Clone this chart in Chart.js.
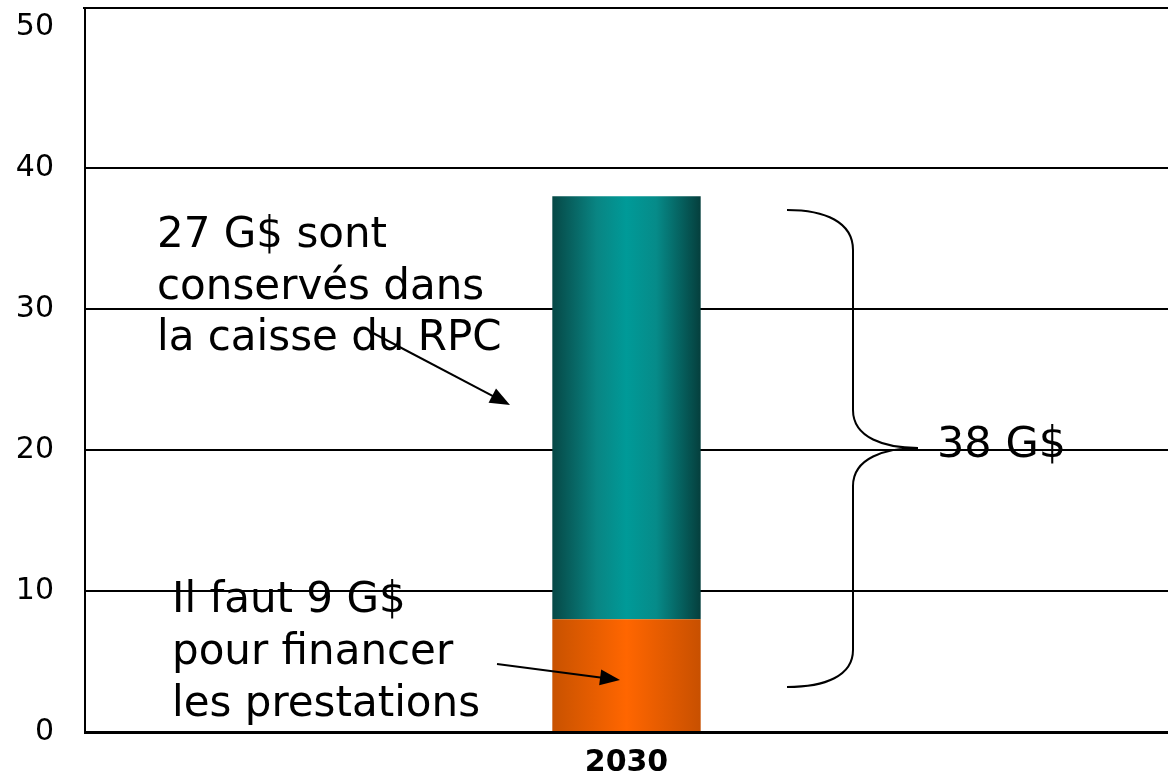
<!DOCTYPE html>
<html>
<head>
<meta charset="utf-8">
<script src="https://cdn.jsdelivr.net/npm/chart.js@4/dist/chart.umd.min.js"></script>
<style>
  html, body { margin: 0; padding: 0; background: #fff; }
  #wrap { width: 1168px; height: 776px; }
</style>
</head>
<body>
<div id="wrap"><canvas id="chart" width="1168" height="776"></canvas></div>
<script>
const categories = ["2030"];
const besoinPrestations = [8];   // orange, bas de la barre
const conserveCaisse = [30];     // sarcelle, haut de la barre (total ~38)
const yTickValues = [0, 10, 20, 30, 40, 50];
const yTickLabels = ["0", "10", "20", "30", "40", "50"];

const FONT = "'DejaVu Sans', Verdana, sans-serif";
const BAR_PCT = 0.137;

// horizontal shading across the bar, like the original cylinder look
function barGradient(stops, fallback) {
  return function (c) {
    const chart = c.chart;
    const area = chart.chartArea;
    if (!area) return fallback;
    const x = chart.scales.x.getPixelForValue(c.dataIndex);
    const hw = (area.right - area.left) * BAR_PCT / 2;
    const g = chart.ctx.createLinearGradient(x - hw, 0, x + hw, 0);
    stops.forEach(s => g.addColorStop(s[0], s[1]));
    return g;
  };
}

function arrow(ctx, x1, y1, x2, y2) {
  const a = Math.atan2(y2 - y1, x2 - x1);
  const L = 20, W = 8;
  ctx.beginPath();
  ctx.moveTo(x1, y1);
  ctx.lineTo(x2 - L * Math.cos(a) * 0.8, y2 - L * Math.sin(a) * 0.8);
  ctx.stroke();
  ctx.beginPath();
  ctx.moveTo(x2, y2);
  ctx.lineTo(x2 - L * Math.cos(a) + W * Math.sin(a), y2 - L * Math.sin(a) - W * Math.cos(a));
  ctx.lineTo(x2 - L * Math.cos(a) - W * Math.sin(a), y2 - L * Math.sin(a) + W * Math.cos(a));
  ctx.closePath();
  ctx.fill();
}

const notes = {
  id: "notes",
  afterDraw(chart) {
    const ctx = chart.ctx;
    const area = chart.chartArea;
    ctx.save();
    // top frame line
    ctx.strokeStyle = "#000";
    ctx.lineWidth = 2;
    ctx.beginPath();
    ctx.moveTo(area.left - 2, area.top);
    ctx.lineTo(area.right, area.top);
    ctx.stroke();

    ctx.fillStyle = "#000";
    ctx.font = "42px " + FONT;
    ctx.textBaseline = "alphabetic";
    ctx.fillText("27 G$ sont", 157, 247);
    ctx.fillText("conservés dans", 157, 299);
    ctx.fillText("la caisse du RPC", 157, 350);
    ctx.fillText("Il faut 9 G$", 172, 612);
    ctx.fillText("pour financer", 172, 664);
    ctx.fillText("les prestations", 172, 716);
    ctx.font = "43px " + FONT;
    ctx.fillText("38 G$", 937, 457);

    ctx.lineWidth = 2;
    arrow(ctx, 373, 333, 510, 405);
    arrow(ctx, 497, 664, 620, 680);

    // right curly brace
    ctx.lineWidth = 2;
    ctx.beginPath();
    ctx.moveTo(787, 210);
    ctx.bezierCurveTo(825, 210, 853, 222, 853, 250);
    ctx.lineTo(853, 410);
    ctx.bezierCurveTo(853, 438, 885, 448, 918, 448);
    ctx.bezierCurveTo(885, 448, 853, 458, 853, 486);
    ctx.lineTo(853, 650);
    ctx.bezierCurveTo(853, 676, 825, 687, 787, 687);
    ctx.stroke();
    ctx.restore();
  }
};

new Chart(document.getElementById("chart"), {
  type: "bar",
  data: {
    labels: categories,
    datasets: [
      {
        label: "Prestations",
        data: besoinPrestations,
        backgroundColor: barGradient([[0, "#c85200"], [0.5, "#ff6600"], [1, "#c85000"]], "#ff6600"),
        borderWidth: 0,
        barPercentage: BAR_PCT,
        categoryPercentage: 1
      },
      {
        label: "Caisse du RPC",
        data: conserveCaisse,
        backgroundColor: barGradient([[0, "#064846"], [0.3, "#098583"], [0.5, "#009a98"], [0.7, "#068b89"], [1, "#053f3d"]], "#009999"),
        borderWidth: 0,
        barPercentage: BAR_PCT,
        categoryPercentage: 1
      }
    ]
  },
  options: {
    responsive: false,
    animation: false,
    layout: { padding: { top: 8, right: 0, bottom: 0, left: 0 } },
    plugins: { legend: { display: false }, tooltip: { enabled: false } },
    scales: {
      x: {
        stacked: true,
        grid: { display: false, drawTicks: false },
        border: { display: true, color: "#000", width: 3 },
        ticks: { color: "#000", padding: 13, font: { family: FONT, size: 30, weight: "bold" } },
        afterFit: s => { s.height = 44; }
      },
      y: {
        stacked: true,
        min: 0,
        max: 51.35,
        afterBuildTicks: s => { s.ticks = yTickValues.map(v => ({ value: v })); },
        grid: {
          drawTicks: true,
          tickLength: 31,
          tickColor: "rgba(0,0,0,0)",
          color: c => (c.tick && c.tick.value === 50) ? "rgba(0,0,0,0)" : "#000",
          lineWidth: 2
        },
        border: { display: true, color: "#000", width: 2 },
        ticks: {
          color: "#000",
          padding: 0,
          font: { family: FONT, size: 30, lineHeight: 0.5 },
          callback: (v, i) => yTickLabels[i]
        },
        afterFit: s => { s.width = 85; }
      }
    }
  },
  plugins: [notes]
});
</script>
</body>
</html>
